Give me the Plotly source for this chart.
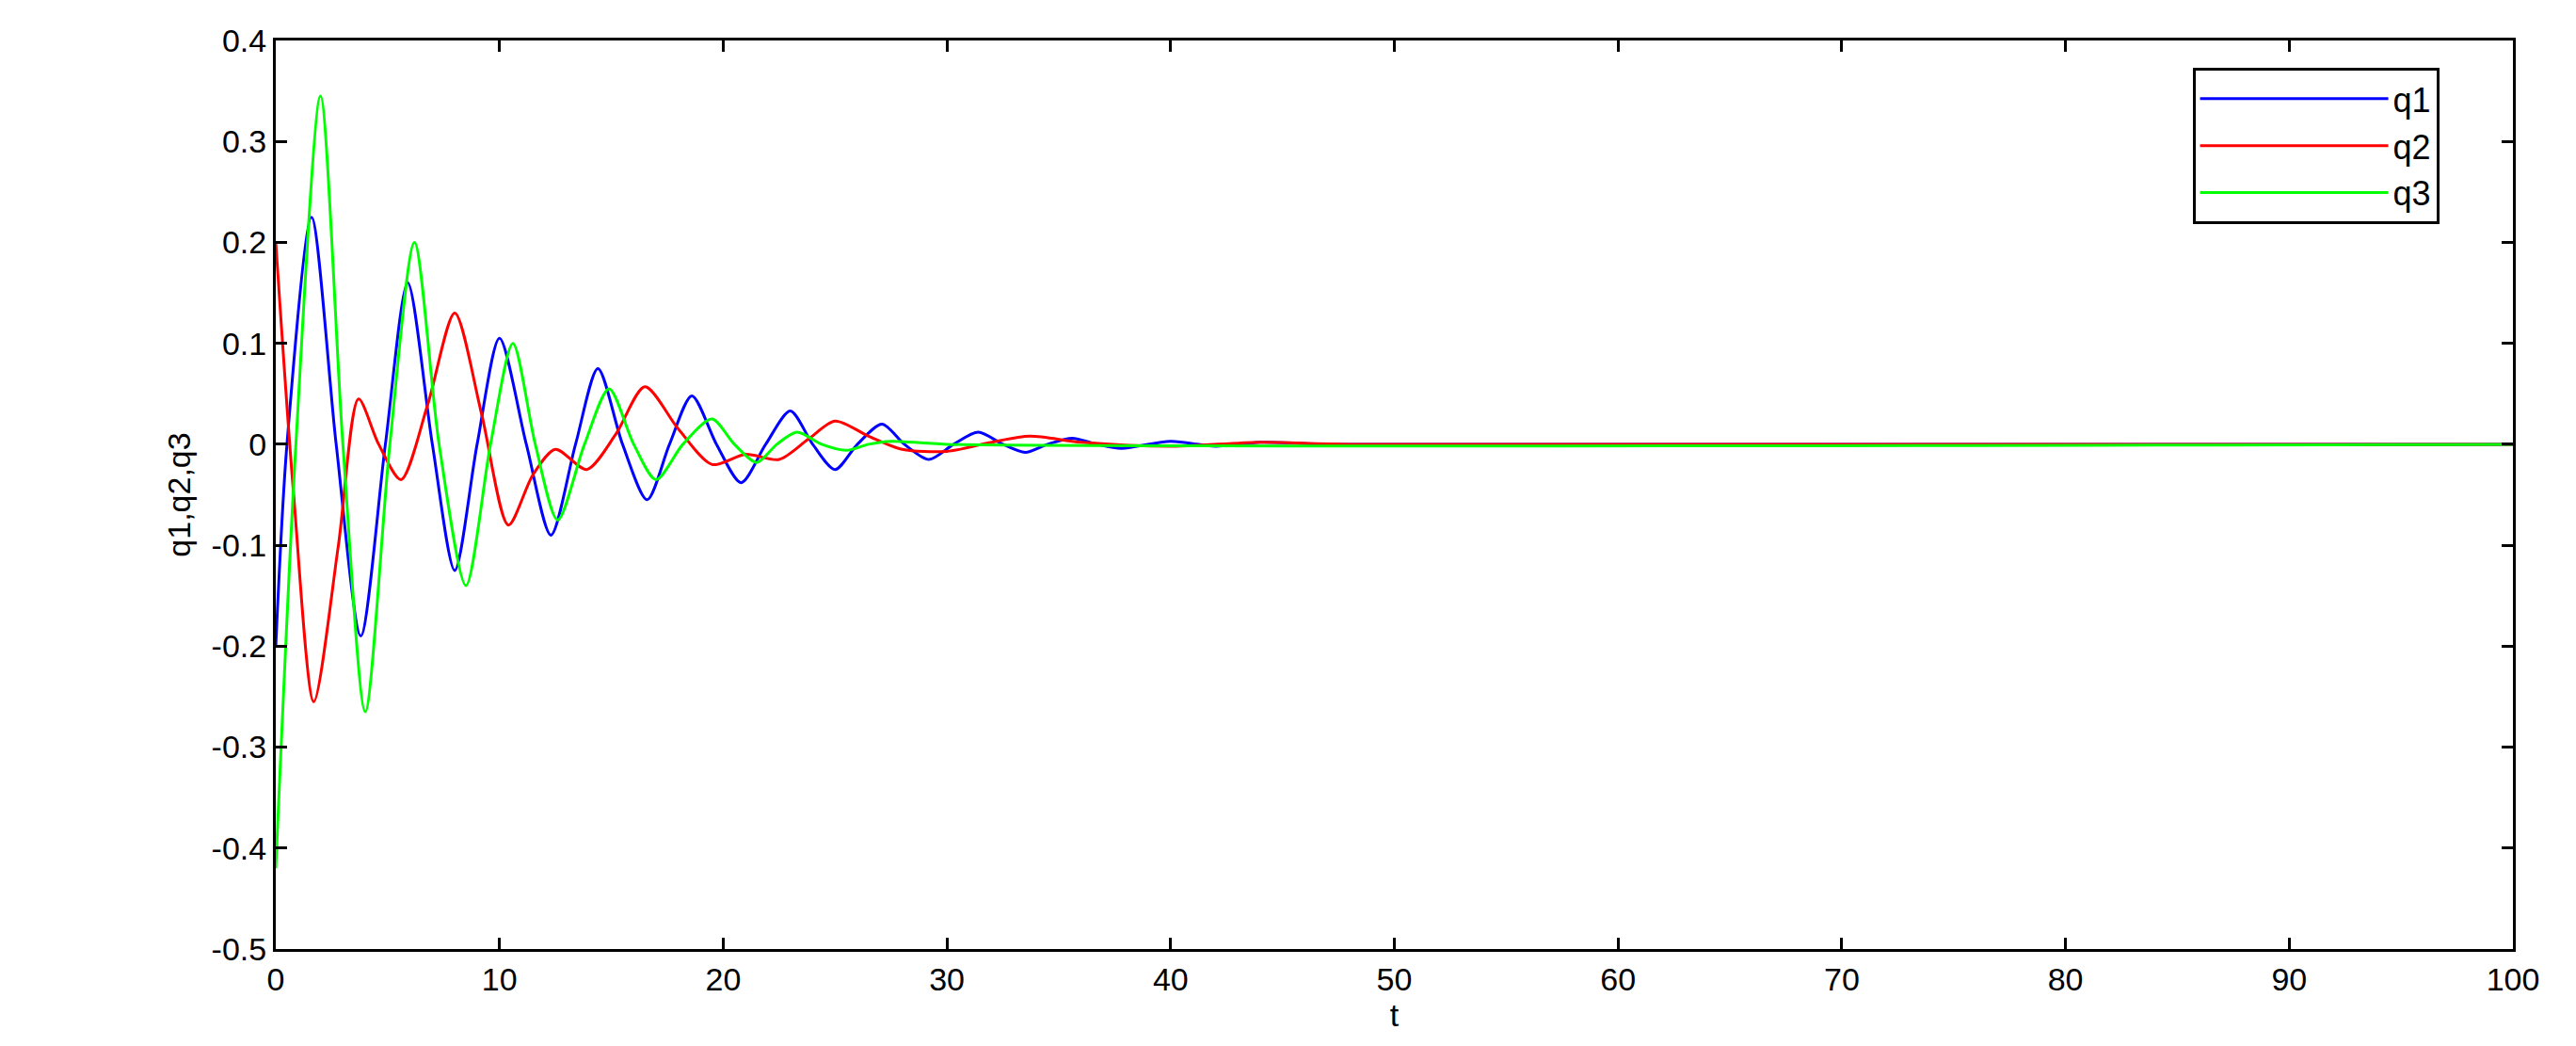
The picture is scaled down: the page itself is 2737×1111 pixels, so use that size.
from plotly import graph_objects as go

BLUE = "#0000FF"
RED = "#FF0000"
GREEN = "#00FF00"

# turning points (t, value)
Q1_T = [0, 0.5, 1.6, 2.7, 3.8, 4.9, 5.9, 7.0, 8.0, 9.0, 10.0, 11.2, 12.3, 13.4, 14.4, 15.5, 16.6,
        17.6, 18.6, 19.7, 20.8, 21.9, 23.0, 24.0, 25.0, 26.0, 27.1, 28.1, 29.2, 30.3, 31.4,
        32.5, 33.5, 34.5, 35.6, 36.7, 37.8, 40.0, 42.0, 44.0, 47.0, 100]
Q1_V = [-0.2, 0.0, 0.225, 0.0, -0.19, 0.0, 0.16, 0.0, -0.125, 0.0, 0.105, 0.0, -0.09, 0.0, 0.075,
        0.0, -0.055, 0.0, 0.048, 0.0, -0.038, 0.0, 0.033, 0.0, -0.025, 0.0, 0.02, 0.0, -0.015,
        0.0, 0.012, 0.0, -0.008, 0.0, 0.006, 0.0, -0.004, 0.003, -0.002, 0.002, 0.0, 0.0]

Q2_T = [0, 0.8, 1.7, 2.8, 3.7, 4.6, 5.6, 6.8, 8.0, 9.2, 10.4, 11.5, 12.5, 13.9, 15.2, 16.5,
        18.0, 19.5, 21.0, 22.5, 23.8, 25.0, 26.5, 28.0, 30.0, 32.0, 33.7, 36.0, 40.0, 44.0, 48.0, 100]
Q2_V = [0.2, -0.05, -0.255, -0.1, 0.045, 0.0, -0.035, 0.04, 0.13, 0.03, -0.08, -0.03, -0.005,
        -0.025, 0.01, 0.057, 0.015, -0.02, -0.01, -0.015, 0.005, 0.023, 0.008, -0.005, -0.007,
        0.002, 0.008, 0.002, -0.002, 0.002, 0.0, 0.0]

Q3_T = [0, 0.9, 2.0, 3.0, 4.0, 5.1, 6.2, 7.3, 8.5, 9.6, 10.6, 11.6, 12.6, 13.8, 14.9, 16.0,
        17.0, 18.2, 19.5, 20.5, 21.5, 22.4, 23.3, 24.4, 25.5, 26.5, 27.5, 30.0, 100]
Q3_V = [-0.42, 0.0, 0.345, 0.0, -0.265, 0.0, 0.2, 0.0, -0.14, 0.0, 0.1, 0.0, -0.075, 0.0, 0.055,
        0.0, -0.035, 0.0, 0.025, 0.0, -0.018, 0.0, 0.012, 0.0, -0.006, 0.0, 0.003, 0.0, 0.0]

Y_TICKS = [-0.5, -0.4, -0.3, -0.2, -0.1, 0, 0.1, 0.2, 0.3, 0.4]
Y_LABELS = ["-0.5", "-0.4", "-0.3", "-0.2", "-0.1", "0", "0.1", "0.2", "0.3", "0.4"]

fig = go.Figure()
for name, t, v, color in [("q1", Q1_T, Q1_V, BLUE), ("q2", Q2_T, Q2_V, RED), ("q3", Q3_T, Q3_V, GREEN)]:
    fig.add_trace(go.Scatter(x=t, y=v, name=name, mode="lines",
                             line=dict(color=color, width=3, shape="spline", smoothing=0.8)))

axis_style = dict(showline=True, linecolor="black", linewidth=3, mirror="ticks", ticks="inside",
                  ticklen=12, tickwidth=3, tickcolor="black", showgrid=False, zeroline=False,
                  tickfont=dict(size=34, color="black"), title_font=dict(size=34, color="black"))
fig.update_xaxes(range=[0, 100], dtick=10, title_text="t", title_standoff=0, **axis_style)
fig.update_yaxes(range=[-0.5, 0.4], tickvals=Y_TICKS, ticktext=Y_LABELS, title_text="q1,q2,q3",
                 title_standoff=12, **axis_style)
fig.update_layout(
    width=2737, height=1111,
    margin=dict(l=285, r=75, t=35, b=111),
    font_family="Liberation Sans",
    plot_bgcolor="white", paper_bgcolor="white",
    legend=dict(x=0.967, y=0.97, xanchor="right", yanchor="top", bordercolor="black",
                borderwidth=3, font=dict(size=36, color="black"), itemwidth=200,
                bgcolor="white", tracegroupgap=0),
)
fig.write_html("out.html")
